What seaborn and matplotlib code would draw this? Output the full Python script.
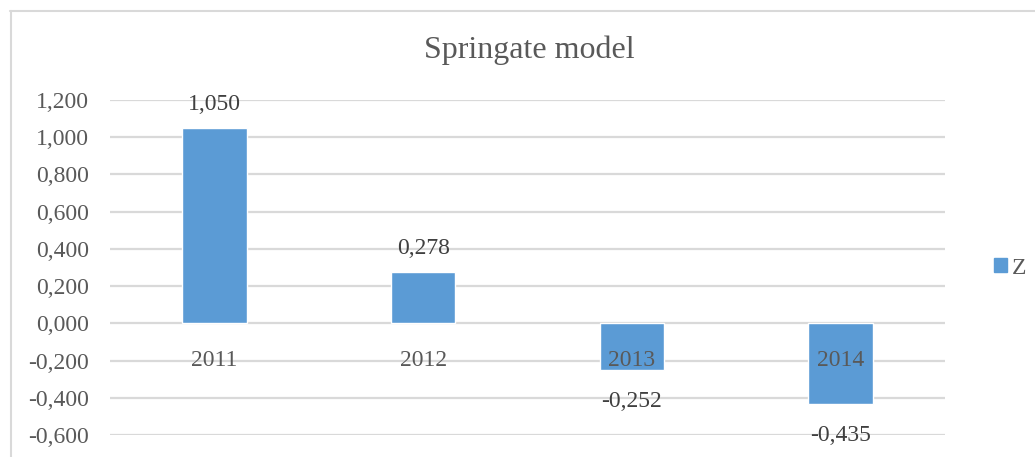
import matplotlib
matplotlib.use("Agg")
import matplotlib.pyplot as plt
import seaborn as sns
from matplotlib.lines import Line2D
from matplotlib.patches import Patch

years = ["2011", "2012", "2013", "2014"]
z_values = [1.050, 0.278, -0.252, -0.435]
y_ticks = [-0.6, -0.4, -0.2, 0.0, 0.2, 0.4, 0.6, 0.8, 1.0, 1.2]

bar_color = "#5B9BD5"
text_color = "#595959"
grid_color = "#D9D9D9"

sns.set_style("white")
plt.rcParams["font.family"] = ["Liberation Serif", "DejaVu Serif"]


def comma(v):
    return f"{v:.3f}".replace(".", ",")


fig = plt.figure(figsize=(10.35, 4.57), dpi=100)
ax = fig.add_axes([110 / 1035, 1 - 435 / 457, 835 / 1035, 335 / 457])

sns.barplot(x=years, y=z_values, color=bar_color, width=0.31, ax=ax,
            saturation=1, zorder=3)

ax.set_ylim(-0.6, 1.2)
ax.set_xlim(-0.5, 3.5)
ax.set_yticks(y_ticks)
ax.set_yticklabels([comma(t) for t in y_ticks], fontsize=17, color=text_color)
ax.tick_params(axis="y", length=0, pad=15)
ax.set_xticks([])
ax.yaxis.grid(True, color=grid_color, linewidth=1.6, zorder=0)
ax.set_axisbelow(True)
for s in ax.spines.values():
    s.set_visible(False)

# category labels sit on the zero line
for i, yr in enumerate(years):
    ax.annotate(yr, (i, 0), xytext=(0, -19), textcoords="offset points",
                ha="center", va="top", fontsize=17, color=text_color, zorder=5)

# data labels
for i, v in enumerate(z_values):
    off = 9 if v >= 0 else -15
    ax.annotate(comma(v), (i, v), xytext=(0, off), textcoords="offset points",
                ha="center", va="bottom" if v >= 0 else "top",
                fontsize=17, color="#404040", zorder=5)

fig.text(529 / 1035, 1 - 50 / 457, "Springate model", ha="center", va="center",
         fontsize=23, color=text_color)

leg = fig.legend(handles=[Patch(color=bar_color, label="Z")],
                 loc="center left", bbox_to_anchor=(982 / 1035, 1 - 268 / 457),
                 frameon=False, fontsize=17, handlelength=0.55, handleheight=0.55,
                 handletextpad=0.2, borderpad=0)
for t in leg.get_texts():
    t.set_color(text_color)

# chart border (top and left visible)
fig.add_artist(Line2D([10 / 1035, 1], [1 - 10.5 / 457, 1 - 10.5 / 457],
                      color=grid_color, linewidth=1.5))
fig.add_artist(Line2D([10.5 / 1035, 10.5 / 1035], [0, 1 - 10.5 / 457],
                      color=grid_color, linewidth=1.5))

fig.savefig("out.png", dpi=100)
